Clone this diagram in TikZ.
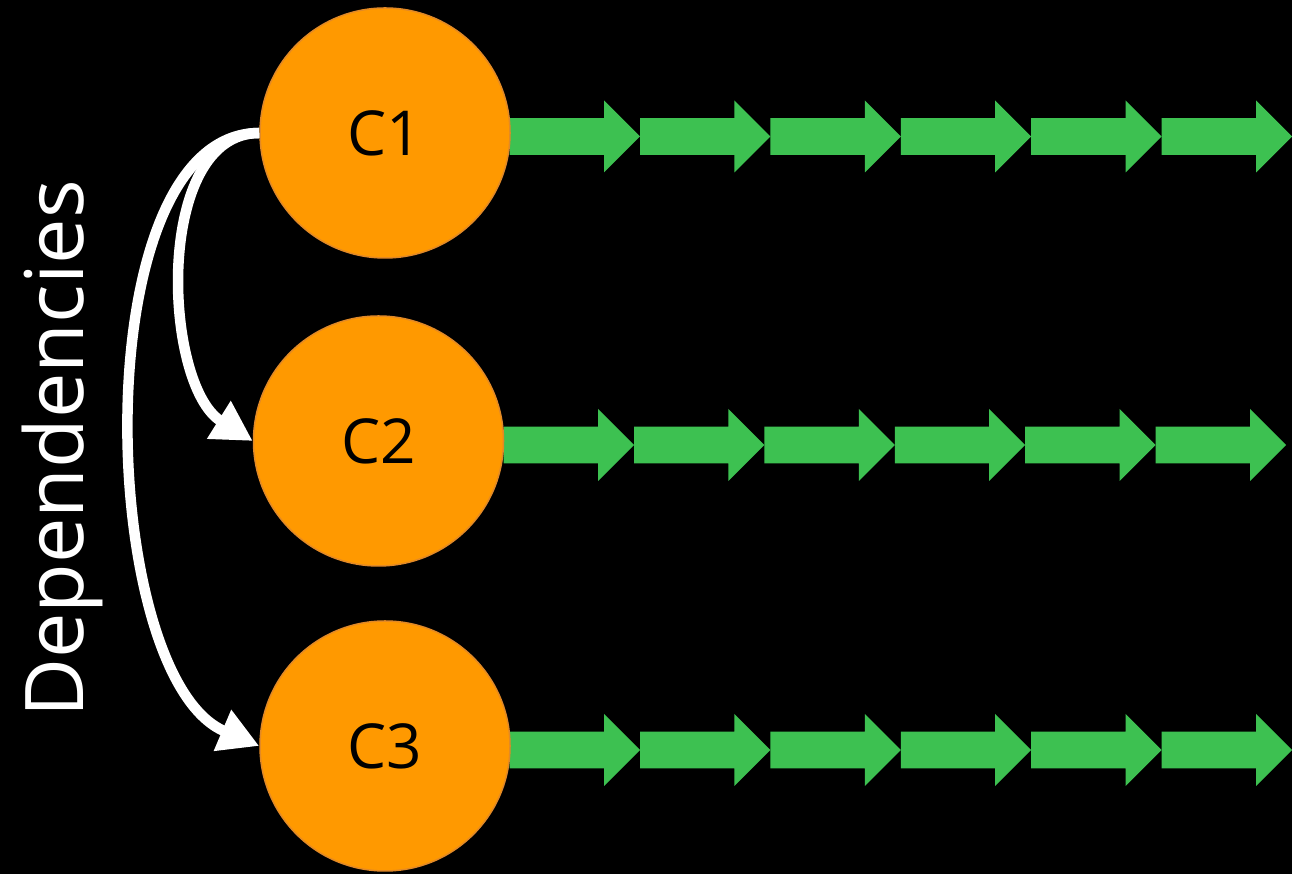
\documentclass[tikz,border=0pt]{standalone}
\usepackage{fontspec}
\setmainfont{Open Sans}
\usepackage{tikz}
\usetikzlibrary{arrows.meta}

\definecolor{coreorange}{RGB}{255,153,0}
\definecolor{coreedge}{RGB}{226,137,38}
\definecolor{flowgreen}{RGB}{61,193,81}

\begin{document}
\begin{tikzpicture}[x=1pt, y=1pt, line width=1pt,
    core/.style={circle, fill=coreorange, draw=coreedge, line width=1.5pt,
      minimum size=250pt, inner sep=0pt, font=\fontsize{62}{62}\selectfont},
    dep/.style={draw=white, line width=10.5pt, -{Triangle[length=40pt, width=42pt]}}]
    % draw black background
    \fill[black] (0, 0) rectangle (1292, 874);

    % draw green block arrows (six per row)
    \foreach \tipx/\midy in {640/737.5, 634/429, 640/124}
      \foreach \k in {0,...,5} {
        \pgfmathsetmacro{\tx}{\tipx + 130.4*\k}
        \fill[flowgreen] (\tx-130.4, \midy-18.3) -- (\tx-36, \midy-18.3) -- (\tx-36, \midy-36)
          -- (\tx, \midy) -- (\tx-36, \midy+36) -- (\tx-36, \midy+18.3) -- (\tx-130.4, \midy+18.3) -- cycle;
      }

    % draw cores
    \node[core] (c1) at (385, 741) {C1};
    \node[core] (c2) at (378.5, 433) {C2};
    \node[core] (c3) at (385, 128) {C3};

    % draw dependency arrows
    \draw[dep] (c1.west) to[out=180, in=148, looseness=0.88] (c2.west);
    \draw[dep] (c1.west) to[out=180, in=157, looseness=0.74] (c3.west);

    % draw side label
    \node[rotate=90, anchor=base, text=white, font=\fontsize{81}{81}\selectfont] (deps) at (83, 425) {Dependencies};
\end{tikzpicture}
\end{document}
